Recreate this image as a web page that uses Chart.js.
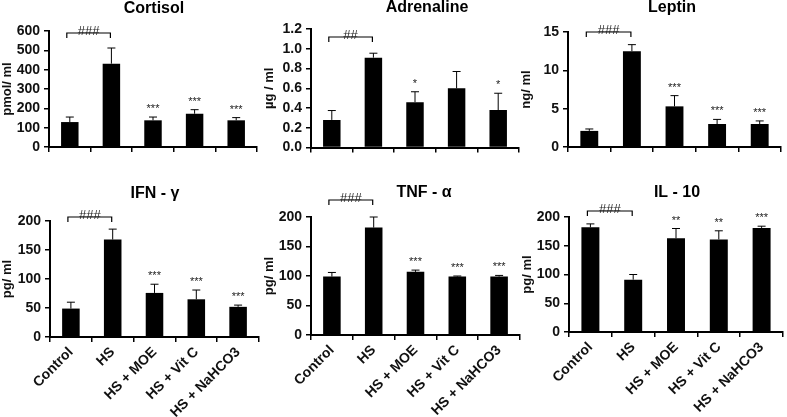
<!DOCTYPE html>
<html>
<head>
<meta charset="utf-8">
<script src="https://cdn.jsdelivr.net/npm/chart.js@4.4.1/dist/chart.umd.min.js"></script>
<style>
  html, body { margin: 0; padding: 0; background: #fff; }
  #wrap { position: relative; width: 787px; height: 417px; overflow: hidden; }
  #wrap canvas { position: absolute; }
</style>
</head>
<body>
<div id="wrap"></div>
<script>
// groups on the x axis (same for every panel)
const groups = ['Control', 'HS', 'HS + MOE', 'HS + Vit C', 'HS + NaHCO3'];

// mean values and upper error (SE)
const cortisolMean = [129, 431, 138, 172, 138];
const cortisolErr  = [26, 81, 17, 21, 14];
const cortisolSig  = ['', '', '***', '***', '***'];
const cortisolTicks = [0, 100, 200, 300, 400, 500, 600];

const adrenalineMean = [0.28, 0.91, 0.46, 0.60, 0.38];
const adrenalineErr  = [0.095, 0.045, 0.105, 0.17, 0.17];
const adrenalineSig  = ['', '', '*', '', '*'];
const adrenalineTicks = [0, 0.2, 0.4, 0.6, 0.8, 1.0, 1.2];

const leptinMean = [2.1, 12.5, 5.3, 3.0, 3.0];
const leptinErr  = [0.25, 0.85, 1.4, 0.6, 0.4];
const leptinSig  = ['', '', '***', '***', '***'];
const leptinTicks = [0, 5, 10, 15];

const ifnMean = [49, 168, 76, 65, 52];
const ifnErr  = [11, 18, 15, 16, 3];
const ifnSig  = ['', '', '***', '***', '***'];
const ifnTicks = [0, 50, 100, 150, 200];

const tnfMean = [99, 182, 107, 99, 99];
const tnfErr  = [7, 18, 3, 1, 2];
const tnfSig  = ['', '', '***', '***', '***'];
const tnfTicks = [0, 50, 100, 150, 200];

const il10Mean = [182, 91, 163, 161, 181];
const il10Err  = [6, 9, 17, 15, 3];
const il10Sig  = ['', '', '**', '**', '***'];
const il10Ticks = [0, 50, 100, 150, 200];

Chart.defaults.font.family = '"Liberation Sans", Arial, sans-serif';
Chart.defaults.color = '#111';

// draws error bars, stars, the ### bracket and the panel title
const sigPlugin = {
  id: 'sig',
  afterDatasetsDraw(chart, args, o) {
    const ctx = chart.ctx;
    const meta = chart.getDatasetMeta(0);
    const ys = chart.scales.y;
    const area = chart.chartArea;
    ctx.save();
    ctx.strokeStyle = '#000';
    ctx.fillStyle = '#222';
    ctx.lineWidth = 1;
    ctx.textAlign = 'center';
    meta.data.forEach(function (bar, i) {
      const top = ys.getPixelForValue(o.mean[i] + o.err[i]);
      ctx.beginPath();
      ctx.moveTo(bar.x, bar.y);
      ctx.lineTo(bar.x, top);
      ctx.moveTo(bar.x - 4, top);
      ctx.lineTo(bar.x + 4, top);
      ctx.stroke();
      if (o.sig[i]) {
        ctx.font = '11px "Liberation Sans", Arial';
        ctx.textBaseline = 'alphabetic';
        ctx.fillText(o.sig[i], bar.x, top - 5);
      }
    });

    // bracket Control -> HS
    const x0 = meta.data[0].x - 3, x1 = meta.data[1].x - 1;
    const by = area.top + o.bracketY;
    ctx.lineWidth = 1.2;
    ctx.beginPath();
    ctx.moveTo(x0, by + 5);
    ctx.lineTo(x0, by);
    ctx.lineTo(x1, by);
    ctx.lineTo(x1, by + 5);
    ctx.stroke();
    ctx.font = '13px "Liberation Sans", Arial';
    ctx.textBaseline = 'alphabetic';
    ctx.fillText(o.hash, (x0 + x1) / 2, by + 2);

    // title
    ctx.fillStyle = '#000';
    ctx.font = 'bold 16px "Liberation Sans", Arial';
    ctx.textBaseline = 'middle';
    ctx.fillText(o.title, o.titleX, o.titleY);
    ctx.restore();
  }
};

function makePanel(p) {
  const cv = document.createElement('canvas');
  cv.width = p.w;
  cv.height = p.h;
  cv.style.left = p.left + 'px';
  cv.style.top = p.top + 'px';
  document.getElementById('wrap').appendChild(cv);

  const yWidth = p.area.l - p.left;
  const xHeight = p.top + p.h - p.area.b;

  new Chart(cv, {
    type: 'bar',
    data: {
      labels: groups,
      datasets: [{
        data: p.mean,
        backgroundColor: '#000',
        borderWidth: 0,
        barPercentage: 0.42,
        categoryPercentage: 1
      }]
    },
    options: {
      responsive: false,
      animation: false,
      layout: {
        padding: { top: p.area.t - p.top, right: p.left + p.w - p.area.r, left: 0, bottom: 0 }
      },
      scales: {
        x: {
          afterFit: function (s) { s.height = xHeight; },
          grid: { drawOnChartArea: false, color: '#000', lineWidth: 1.5, tickLength: 5, offset: true },
          border: { color: '#000', width: 2 },
          ticks: {
            display: p.showLabels,
            autoSkip: false,
            minRotation: 45,
            maxRotation: 45,
            padding: 2,
            color: '#111',
            font: { size: 14, weight: 'bold' }
          }
        },
        y: {
          min: p.ticks[0],
          max: p.ticks[p.ticks.length - 1],
          afterFit: function (s) { s.width = yWidth; },
          afterBuildTicks: function (s) { s.ticks = p.ticks.map(function (v) { return { value: v }; }); },
          grid: { drawOnChartArea: false, color: '#000', lineWidth: 1.5, tickLength: 5 },
          border: { color: '#000', width: 2 },
          ticks: {
            autoSkip: false,
            padding: 4,
            color: '#111',
            font: { size: 14, weight: 'bold' },
            callback: function (v) { return p.dec ? v.toFixed(p.dec) : v; }
          },
          title: {
            display: true,
            text: p.yTitle,
            padding: 0,
            color: '#111',
            font: { size: 13, weight: 'bold' }
          }
        }
      },
      plugins: {
        legend: { display: false },
        tooltip: { enabled: false },
        sig: {
          mean: p.mean, err: p.err, sig: p.sig, hash: p.hash, bracketY: p.bracketY,
          title: p.title, titleX: p.titleX - p.left, titleY: p.titleY - p.top
        }
      }
    },
    plugins: [sigPlugin]
  });
}

makePanel({ left: 0, top: 0, w: 262, h: 160, area: { l: 49, r: 257, t: 31, b: 147 },
  title: 'Cortisol', titleX: 154, titleY: 9, yTitle: 'pmol/ ml', hash: '###', bracketY: 2,
  mean: cortisolMean, err: cortisolErr, sig: cortisolSig, ticks: cortisolTicks, dec: 0, showLabels: false });

makePanel({ left: 262, top: 0, w: 262, h: 160, area: { l: 311, r: 519, t: 29, b: 148 },
  title: 'Adrenaline', titleX: 427, titleY: 8, yTitle: 'µg / ml', hash: '##', bracketY: 8,
  mean: adrenalineMean, err: adrenalineErr, sig: adrenalineSig, ticks: adrenalineTicks, dec: 1, showLabels: false });

makePanel({ left: 519, top: 0, w: 268, h: 160, area: { l: 568, r: 781, t: 32, b: 147 },
  title: 'Leptin', titleX: 672, titleY: 8, yTitle: 'ng/ ml', hash: '###', bracketY: 0,
  mean: leptinMean, err: leptinErr, sig: leptinSig, ticks: leptinTicks, dec: 0, showLabels: false });

makePanel({ left: 0, top: 170, w: 262, h: 247, area: { l: 50, r: 259, t: 221, b: 337 },
  title: 'IFN - γ', titleX: 155, titleY: 194, yTitle: 'pg/ ml', hash: '###', bracketY: -4,
  mean: ifnMean, err: ifnErr, sig: ifnSig, ticks: ifnTicks, dec: 0, showLabels: true });

makePanel({ left: 262, top: 170, w: 262, h: 247, area: { l: 311, r: 520, t: 217, b: 335 },
  title: 'TNF - α', titleX: 424, titleY: 193, yTitle: 'pg/ ml', hash: '###', bracketY: -17,
  mean: tnfMean, err: tnfErr, sig: tnfSig, ticks: tnfTicks, dec: 0, showLabels: true });

makePanel({ left: 520, top: 170, w: 267, h: 247, area: { l: 569, r: 783, t: 217, b: 332 },
  title: 'IL - 10', titleX: 677, titleY: 193, yTitle: 'pg/ ml', hash: '###', bracketY: -6,
  mean: il10Mean, err: il10Err, sig: il10Sig, ticks: il10Ticks, dec: 0, showLabels: true });
</script>
</body>
</html>
